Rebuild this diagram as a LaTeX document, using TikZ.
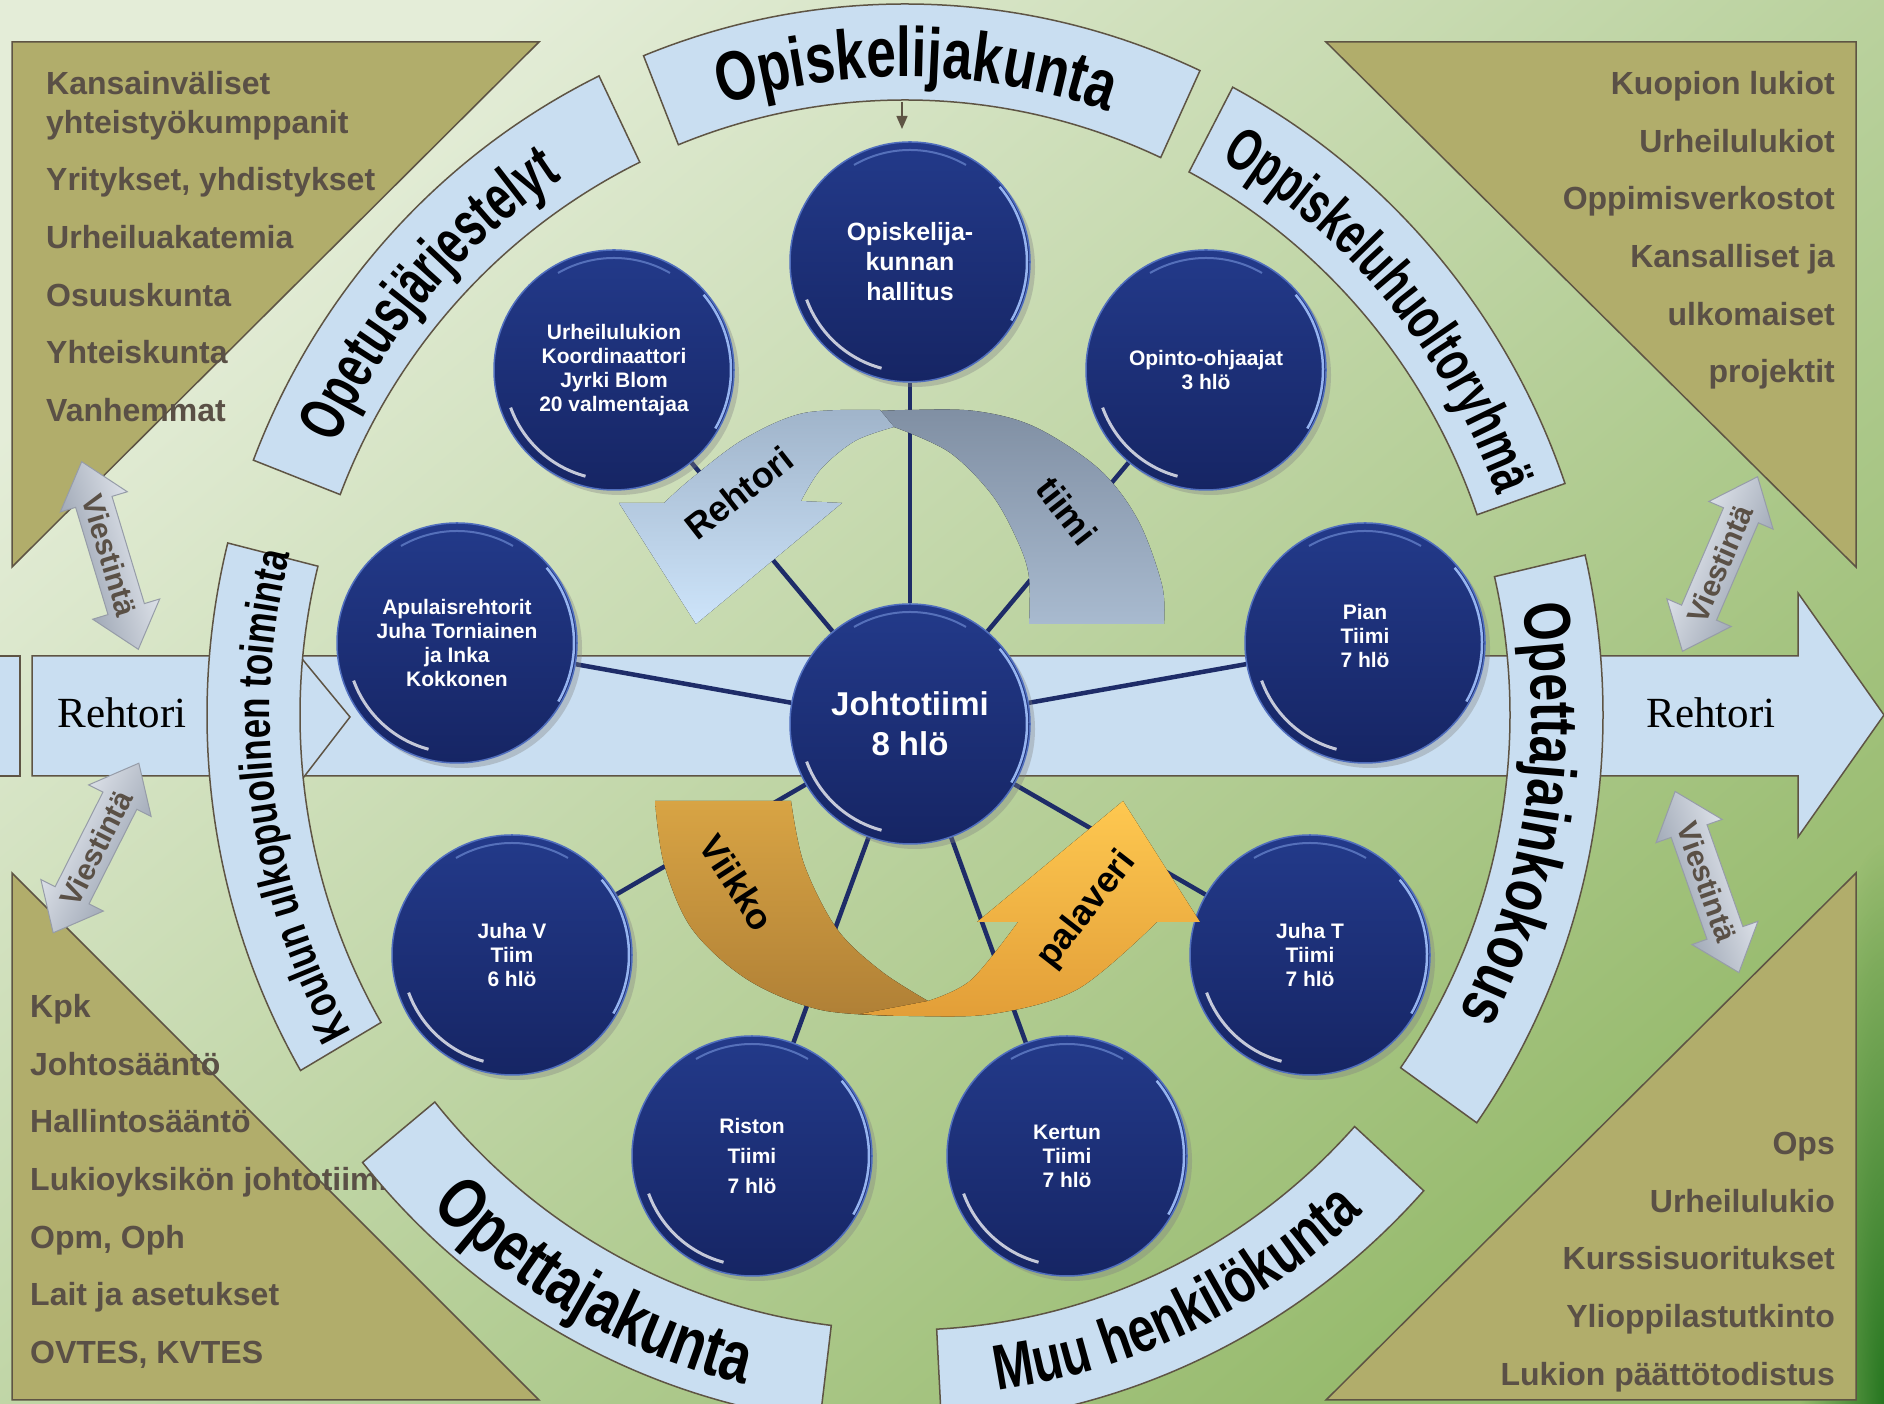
\documentclass[tikz,border=0pt]{standalone}
\usepackage{fontspec}
\setmainfont{Liberation Sans}
\newfontfamily\serifrm{Liberation Serif}
\newfontfamily\bandfont[FakeStretch=0.76]{Liberation Sans}
\newfontfamily\bandfontn[FakeStretch=0.68]{Liberation Sans}
\usetikzlibrary{shadows,decorations.text,fadings,arrows.meta}
\pgfdeclarelayer{bg}
\pgfdeclarelayer{lines}
\pgfdeclarelayer{front}
\pgfsetlayers{bg,lines,main,front}
\definecolor{cornerfill}{RGB}{177,173,107}
\definecolor{edgecol}{RGB}{94,84,68}
\definecolor{cornertext}{RGB}{90,80,70}
\definecolor{bandfill}{RGB}{201,222,241}
\definecolor{navyA}{RGB}{35,58,138}
\definecolor{navyB}{RGB}{22,37,100}
\definecolor{conncol}{RGB}{30,44,104}
\definecolor{darkcorner}{RGB}{38,118,32}
\definecolor{glossA}{RGB}{150,180,240}
\definecolor{glossB}{RGB}{120,150,220}
\definecolor{rimcol}{RGB}{80,110,190}
\tikzfading[name=cornerglow, inner color=transparent!0, outer color=transparent!100]
\tikzset{
  cornertri/.style={fill=cornerfill, draw=edgecol, line width=1.5pt},
  cornerlbl/.style={font=\bfseries\fontsize{32}{38}\selectfont, text=cornertext, inner sep=0pt},
  bandshape/.style={fill=bandfill, draw=edgecol, line width=1.5pt},
  bubble/.style={circle, minimum size=240pt, inner sep=0pt, top color=navyA, bottom color=navyB,
     draw=rimcol, line width=1.5pt, text=white, align=center,
     font=\bfseries\fontsize{21}{24}\selectfont,
     drop shadow={shadow xshift=5pt, shadow yshift=-5pt, opacity=0.35}},
  conn/.style={draw=conncol, line width=4.5pt},
  msgbody/.style={draw={rgb,255:red,150;green,156;blue,168}, line width=1pt,
     top color={rgb,255:red,242;green,245;blue,250}, middle color={rgb,255:red,205;green,211;blue,222},
     bottom color={rgb,255:red,140;green,150;blue,166}},
  msglbl/.style={font=\bfseries\fontsize{30}{30}\selectfont, text=cornertext, inner sep=0pt},
  arrowlbl/.style={font=\bfseries\fontsize{36}{36}\selectfont, text=black, inner sep=0pt},
  rehtorilbl/.style={font=\serifrm\fontsize{43}{43}\selectfont, text=black, inner sep=0pt},
}
\newcommand\ringpart[2]{%
  \path[bandshape] ([shift={(#1:698 and 711)}]rc) arc[start angle=#1, end angle=#2, x radius=698, y radius=711]
    -- ([shift={(#2:605 and 615)}]rc) arc[start angle=#2, end angle=#1, x radius=605, y radius=615] -- cycle;}
\newcommand\ringlabel[7]{%
  \path[decorate, decoration={text along path, text align=center,
      text={|#7\bfseries\fontsize{#5}{#5}\selectfont|#6}}]
    ([shift={(#1:#3 and #4)}]rc) arc[start angle=#1, end angle=#2, x radius=#3, y radius=#4];}
\newcommand\bubblegloss[1]{%
  \draw[white, opacity=0.75, line width=3pt] ([shift={(200:110)}]#1.center) arc[start angle=200, end angle=255, radius=110];
  \draw[glossA, line width=2.5pt] ([shift={(-30:117)}]#1.center) arc[start angle=-30, end angle=40, radius=117];
  \draw[glossB, opacity=0.6, line width=2pt] ([shift={(60:112)}]#1.center) arc[start angle=60, end angle=120, radius=112];}
\newcommand\msgarrow[4]{%
  \begin{scope}[shift={(#2)}, rotate=#3]
    \path[msgbody, shading angle=#3] (-#4,0) -- (-#4+42,35) -- (-#4+42,19) -- (#4-42,19) -- (#4-42,35) -- (#4,0)
      -- (#4-42,-35) -- (#4-42,-19) -- (-#4+42,-19) -- (-#4+42,-35) -- cycle;
    \node[msglbl, rotate=#3] (#1) at (0,0) {Viestintä};
  \end{scope}}
\begin{document}
\begin{tikzpicture}[x=1pt,y=1pt]
\useasboundingbox (0,0) rectangle (1884,1404);
\begin{pgfonlayer}{bg}
  % background
  \shade[top color={rgb,255:red,228;green,237;blue,216}, bottom color={rgb,255:red,150;green,186;blue,108}, shading angle=40]
     (0,0) rectangle (1884,1404);
  \fill[darkcorner, path fading=cornerglow, fit fading=true] (1800,-560) rectangle (1968,560);
  % corner triangles
  \draw[cornertri] (12,1362) -- (539,1362) -- (12,837) -- cycle;
  \draw[cornertri] (1326,1362) -- (1856,1362) -- (1856,837) -- cycle;
  \draw[cornertri] (12,531) -- (12,4) -- (539,4) -- cycle;
  \draw[cornertri] (1856,531) -- (1856,4) -- (1326,4) -- cycle;
  % corner texts
  \node[cornerlbl, anchor=base west] (tl1) at (46,1309) {Kansainväliset};
  \node[cornerlbl, anchor=base west] (tl2) at (46,1270) {yhteistyökumppanit};
  \node[cornerlbl, anchor=base west] (tl3) at (46,1213) {Yritykset, yhdistykset};
  \node[cornerlbl, anchor=base west] (tl4) at (46,1155) {Urheiluakatemia};
  \node[cornerlbl, anchor=base west] (tl5) at (46,1097) {Osuuskunta};
  \node[cornerlbl, anchor=base west] (tl6) at (46,1040) {Yhteiskunta};
  \node[cornerlbl, anchor=base west] (tl7) at (46,982) {Vanhemmat};
  \node[cornerlbl, anchor=base east] (tr1) at (1835,1309) {Kuopion lukiot};
  \node[cornerlbl, anchor=base east] (tr2) at (1835,1251) {Urheilulukiot};
  \node[cornerlbl, anchor=base east] (tr3) at (1835,1194) {Oppimisverkostot};
  \node[cornerlbl, anchor=base east] (tr4) at (1835,1136) {Kansalliset ja};
  \node[cornerlbl, anchor=base east] (tr5) at (1835,1078) {ulkomaiset};
  \node[cornerlbl, anchor=base east] (tr6) at (1835,1021) {projektit};
  \node[cornerlbl, anchor=base west] (bl1) at (30,386) {Kpk};
  \node[cornerlbl, anchor=base west] (bl2) at (30,328) {Johtosääntö};
  \node[cornerlbl, anchor=base west] (bl3) at (30,271) {Hallintosääntö};
  \node[cornerlbl, anchor=base west] (bl4) at (30,213) {Lukioyksikön johtotiimi};
  \node[cornerlbl, anchor=base west] (bl5) at (30,155) {Opm, Oph};
  \node[cornerlbl, anchor=base west] (bl6) at (30,98) {Lait ja asetukset};
  \node[cornerlbl, anchor=base west] (bl7) at (30,40) {OVTES, KVTES};
  \node[cornerlbl, anchor=base east] (br1) at (1835,249) {Ops};
  \node[cornerlbl, anchor=base east] (br2) at (1835,191) {Urheilulukio};
  \node[cornerlbl, anchor=base east] (br3) at (1835,134) {Kurssisuoritukset};
  \node[cornerlbl, anchor=base east] (br4) at (1835,76) {Ylioppilastutkinto};
  \node[cornerlbl, anchor=base east] (br5) at (1835,18) {Lukion päättötodistus};
  % horizontal band arrows
  \path[bandshape] (300,748) -- (1798,748) -- (1798,811) -- (1884,689) -- (1798,567) -- (1798,628) -- (300,628) -- cycle;
  \path[bandshape] (32,748) -- (270,748) -- (270,784) -- (350,687) -- (270,583) -- (270,628) -- (32,628) -- cycle;
  \path[bandshape] (-5,628) rectangle (20,748);
  \node[rehtorilbl] (rehL) at (122,691) {Rehtori};
  \node[rehtorilbl] (rehR) at (1711,691) {Rehtori};
  % ring bands
  \coordinate (rc) at (905,689);
  \ringpart{65}{112}
  \ringpart{116}{159}
  \ringpart{19}{62}
  \ringpart{-35}{13}
  \ringpart{-87}{-42}
  \ringpart{-141}{-97}
  \ringpart{166}{210}
  \ringlabel{117}{61}{626}{638}{70}{Opiskelijakunta}{\bandfont}
  \ringlabel{163}{115}{628}{640}{64}{Opetusjärjestelyt}{\bandfontn}
  \ringlabel{65}{15}{630}{642}{60}{Oppiskeluhuoltoryhmä}{\bandfontn}
  \ringlabel{17}{-35}{627}{639}{66}{Opettajainkokous}{\bandfont}
  \ringlabel{-92}{-37}{670}{682}{64}{Muu henkilökunta}{\bandfont}
  \ringlabel{-147}{-91}{677}{689}{72}{Opettajakunta}{\bandfont}
  \ringlabel{216}{159}{635}{647}{46}{Koulun ulkopuolinen toiminta}{\bandfont}
\end{pgfonlayer}
% circles
\node[bubble, font=\bfseries\fontsize{25}{30}\selectfont] (opisk) at (910,1142) {Opiskelija-\\kunnan\\hallitus};
\node[bubble] (urheil) at (614,1034) {Urheilulukion\\Koordinaattori\\Jyrki Blom\\20 valmentajaa};
\node[bubble] (opinto) at (1206,1034) {Opinto-ohjaajat\\3 hlö};
\node[bubble] (apul) at (457,761) {Apulaisrehtorit\\Juha Torniainen\\ja Inka\\Kokkonen};
\node[bubble] (pian) at (1365,761) {Pian\\Tiimi\\7 hlö\\[-10pt]\mbox{}};
\node[bubble, font=\bfseries\fontsize{33}{40}\selectfont] (johto) at (910,680) {Johtotiimi\\8 hlö};
\node[bubble] (juhav) at (512,449) {Juha V\\Tiim\\6 hlö};
\node[bubble] (juhat) at (1310,449) {Juha T\\Tiimi\\7 hlö};
\node[bubble, font=\bfseries\fontsize{21}{30}\selectfont] (riston) at (752,248) {Riston\\Tiimi\\7 hlö};
\node[bubble] (kertun) at (1067,248) {Kertun\\Tiimi\\7 hlö};
\foreach \b in {opisk,urheil,opinto,apul,pian,johto,juhav,juhat,riston,kertun} {\bubblegloss{\b}}
\begin{pgfonlayer}{lines}
  \foreach \b in {opisk,urheil,opinto,apul,pian,juhav,juhat,riston,kertun} {\draw[conn] (johto) -- (\b);}
\end{pgfonlayer}
\begin{pgfonlayer}{front}
  % Rehtori / tiimi curved arrow
  \fill[top color={rgb,255:red,128;green,143;blue,163}, bottom color={rgb,255:red,168;green,186;blue,207}]
    (1029,780) -- (1164,780) -- plot[smooth, tension=0.55] coordinates {(1164,780) (1162,819) (1138,884) (1099,935) (1035,977) (975,993) (906,994) (860,992)}
    -- (894,977) -- plot[smooth, tension=0.55] coordinates {(894,977) (949,952) (992,909) (1018,862) (1029,827) (1029,780)} -- cycle;
  \fill[top color={rgb,255:red,160;green,180;blue,202}, bottom color={rgb,255:red,205;green,228;blue,250}]
    (894,977) -- (880,994) -- plot[smooth, tension=0.55] coordinates {(880,994) (804,991) (744,965) (692,926) (664,901)}
    -- (619,901) -- (696,780) -- (842,901) -- (801,903)
    -- plot[smooth, tension=0.55] coordinates {(801,903) (821,935) (855,963) (894,977)} -- cycle;
  % Viikko / palaveri curved arrow
  \fill[top color={rgb,255:red,216;green,164;blue,68}, bottom color={rgb,255:red,176;green,128;blue,54}]
    (791,603) -- (655,603) -- plot[smooth, tension=0.55] coordinates {(655,603) (664,540) (692,475) (748,424) (821,394) (907,388)}
    -- (928,403) -- plot[smooth, tension=0.55] coordinates {(928,403) (881,433) (837,475) (804,540) (791,603)} -- cycle;
  \fill[top color={rgb,255:red,254;green,200;blue,80}, bottom color={rgb,255:red,226;green,158;blue,56}]
    (860,390) -- plot[smooth, tension=0.55] coordinates {(860,390) (907,388) (992,390) (1078,415) (1157,482)}
    -- (1200,482) -- (1123,603) -- (977,482) -- (1018,482)
    -- plot[smooth, tension=0.55] coordinates {(1018,482) (971,424) (928,403)} -- cycle;
  \node[arrowlbl, rotate=38] (lblrehtori) at (739,911) {Rehtori};
  \node[arrowlbl, rotate=-52] (lbltiimi) at (1067,893) {tiimi};
  \node[arrowlbl, rotate=-57] (lblviikko) at (737,521) {Viikko};
  \node[arrowlbl, rotate=52] (lblpalaveri) at (1087,494) {palaveri};
  % Viestinta arrows
  \msgarrow{msgUL}{110,848.5}{-73.2}{98}
  \msgarrow{msgLL}{96,556}{63.2}{95}
  \msgarrow{msgUR}{1720,840}{66.7}{95}
  \msgarrow{msgLR}{1707,522}{-70.6}{96}
  % small arrow from Opiskelijakunta band
  \coordinate (opkband) at (902,1302);
  \coordinate (opktip) at (902,1275);
  \draw[draw=edgecol, line width=1.5pt, -{Triangle[length=13pt,width=11pt]}] (opkband) -- (opktip);
\end{pgfonlayer}
\end{tikzpicture}
\end{document}
